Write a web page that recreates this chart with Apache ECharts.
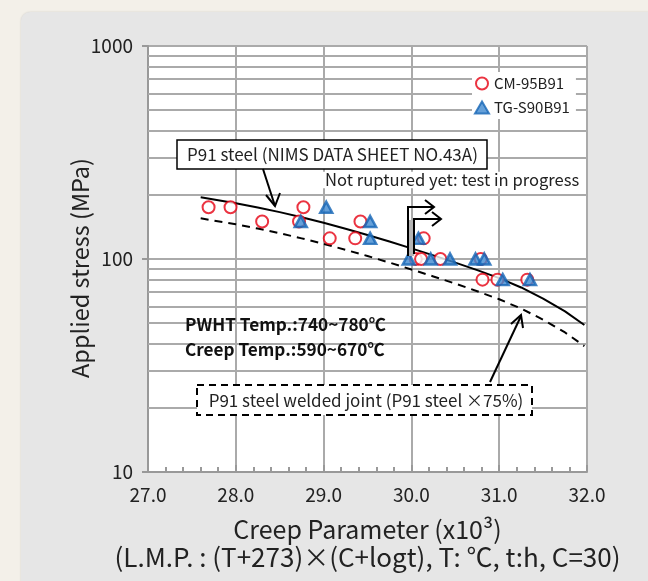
<!DOCTYPE html>
<html>
<head>
<meta charset="utf-8">
<script src="https://cdn.jsdelivr.net/npm/echarts@6/dist/echarts.min.js"></script>
<style>
html,body{margin:0;padding:0;background:#f3f0e9;width:648px;height:581px;overflow:hidden;}
#panel{position:absolute;left:21px;top:12px;width:640px;height:600px;background:#e6e6e6;border-radius:9px;box-shadow:0 0 2px rgba(0,0,0,0.15);}
#chart{position:absolute;left:0;top:0;width:648px;height:581px;}
</style>
</head>
<body>
<div id="panel"></div>
<div id="chart"></div>
<script>
// ---- data ----
const cmX = [27.69, 27.94, 28.30, 28.72, 28.77, 29.07, 29.36, 29.42, 30.05, 30.11, 30.14, 30.33, 30.79, 30.81, 30.98, 31.32];
const cmY = [175, 175, 150, 150, 175, 125, 125, 150, 100, 100, 125, 100, 100, 80, 80, 80];
const tgX = [28.74, 29.03, 29.53, 29.53, 29.97, 30.08, 30.22, 30.44, 30.73, 30.83, 31.04, 31.35];
const tgY = [150, 175, 150, 125, 100, 125, 100, 100, 100, 100, 80, 80];
const solidX = [27.6, 28.0, 28.25, 28.5, 28.75, 29.0, 29.25, 29.5, 29.75, 30.0, 30.25, 30.5, 30.75, 31.0, 31.25, 31.5, 31.75, 31.97];
const solidY = [195, 182.8, 174.6, 166.0, 157.0, 147.9, 138.7, 129.7, 120.8, 112.2, 104.0, 96.2, 88.7, 81.3, 73.5, 65.2, 56.8, 49.0];
const dashX = [27.6, 28.0, 28.25, 28.5, 28.75, 29.0, 29.25, 29.5, 29.75, 30.0, 30.25, 30.5, 30.75, 31.0, 31.25, 31.5, 31.75, 31.97];
const dashY = [155.2, 145.5, 139.0, 132.1, 125.0, 117.8, 110.4, 103.3, 96.2, 89.3, 82.8, 76.6, 70.6, 64.7, 58.5, 51.9, 45.2, 39.0];
const yTickLabels = ['10', '100', '1000'];
const minorGridY = [20, 30, 40, 50, 60, 70, 80, 90, 200, 300, 400, 500, 600, 700, 800, 900];
const seriesNames = ['CM-95B91', 'TG-S90B91'];

const FONT = '"Noto Sans CJK JP", "Noto Sans", sans-serif';
const zip = (xs, ys) => xs.map((x, i) => [x, ys[i]]);

const chart = echarts.init(document.getElementById('chart'), null, {renderer: 'canvas'});
const option = {
  backgroundColor: 'transparent',
  animation: false,
  textStyle: {fontFamily: FONT},
  grid: {left: 148, right: 61, top: 46, bottom: 109, show: true, backgroundColor: '#ffffff', borderWidth: 0},
  legend: {
    data: seriesNames,
    orient: 'vertical',
    left: 472, top: 72, z: 100,
    backgroundColor: '#ffffff',
    padding: [4, 6, 4, 2],
    itemGap: 9,
    itemWidth: 14, itemHeight: 12,
    textStyle: {fontSize: 15, color: '#222', fontFamily: FONT}
  },
  xAxis: {
    type: 'value', min: 27, max: 32, interval: 1,
    axisLine: {show: true, lineStyle: {color: '#999', width: 2}},
    axisTick: {show: true, inside: true, length: 7, lineStyle: {color: '#999', width: 2}},
    minorTick: {show: true, splitNumber: 5, length: 5, lineStyle: {color: '#999', width: 2}},
    axisLabel: {fontSize: 19, color: '#222', margin: 13, formatter: v => v.toFixed(1), fontFamily: FONT},
    splitLine: {show: true, lineStyle: {color: '#aaa', width: 2}},
    name: '{a|Creep Parameter (x10³)}\n{b|(L.M.P. : (T+273)×(C+logt), T: ℃, t:h, C=30)}',
    nameLocation: 'middle', nameGap: 43,
    nameTextStyle: {color: '#222', lineHeight: 28, fontFamily: FONT,
      rich: {a: {fontSize: 25, lineHeight: 28, color: '#222', fontFamily: FONT},
             b: {fontSize: 26, lineHeight: 28, color: '#222', fontFamily: FONT}}}
  },
  yAxis: {
    type: 'log', logBase: 10, min: 10, max: 1000,
    axisLine: {show: true, lineStyle: {color: '#999', width: 2}},
    axisTick: {show: true, length: 6, lineStyle: {color: '#999', width: 2}},
    axisLabel: {fontSize: 19, color: '#222', margin: 15, fontFamily: FONT,
      formatter: v => yTickLabels[Math.round(Math.log10(v)) - 1] || ''},
    splitLine: {show: true, lineStyle: {color: '#aaa', width: 2}}
  },
  series: [
    {
      name: 'grid-minor', type: 'line', data: [], z: 1, silent: true,
      markLine: {
        z: 1,
        silent: true, symbol: 'none', label: {show: false},
        lineStyle: {color: '#aaa', width: 2, type: 'solid'},
        data: minorGridY.map(v => ({yAxis: v}))
      }
    },
    {
      name: 'P91', type: 'line', smooth: false, showSymbol: false, z: 3,
      lineStyle: {color: '#000', width: 2, join: 'round'}, data: zip(solidX, solidY)
    },
    {
      name: 'P91 welded', type: 'line', smooth: false, showSymbol: false, z: 3,
      lineStyle: {color: '#000', width: 2, type: [8, 6]}, data: zip(dashX, dashY)
    },
    {
      name: seriesNames[0], type: 'scatter', symbol: 'emptyCircle', symbolSize: 12, z: 5,
      itemStyle: {color: '#e60012', borderColor: '#e60012', borderWidth: 3},
      data: zip(cmX, cmY)
    },
    {
      name: seriesNames[1], type: 'scatter', symbol: 'triangle', symbolSize: [12, 11], z: 6,
      itemStyle: {color: '#3f88cf', borderColor: '#1565b5', borderWidth: 2.5},
      data: zip(tgX, tgY)
    }
  ],
  graphic: [
    {type: 'text', x: 80, y: 268, rotation: Math.PI / 2, z: 50,
     style: {text: 'Applied stress (MPa)', fontSize: 23.5, fontFamily: FONT, fill: '#222', align: 'center', verticalAlign: 'middle'}},
    {type: 'rect', z: 50, shape: {x: 177, y: 140, width: 310, height: 29},
     style: {fill: '#fff', stroke: '#000', lineWidth: 1.5}},
    {type: 'text', z: 51, x: 187, y: 155,
     style: {text: 'P91 steel (NIMS DATA SHEET NO.43A)', fontSize: 17, fontFamily: FONT, fill: '#222', align: 'left', verticalAlign: 'middle'}},
    {type: 'line', z: 51, shape: {x1: 263, y1: 169, x2: 275, y2: 206}, style: {stroke: '#000', lineWidth: 2}},
    {type: 'polyline', z: 51, shape: {points: [[266, 195], [275, 206], [280, 193]]}, style: {stroke: '#000', lineWidth: 2, fill: null}},
    {type: 'text', z: 50, x: 323, y: 180,
     style: {text: 'Not ruptured yet: test in progress', fontSize: 16.6, fontFamily: FONT, fill: '#222', align: 'left', verticalAlign: 'middle', backgroundColor: '#fff', padding: [0, 2]}},
    {type: 'rect', z: 50, shape: {x: 409, y: 220, width: 5, height: 36}, style: {fill: '#b5b5b5'}},
    {type: 'polyline', z: 51, shape: {points: [[408, 256], [408, 207], [433, 207]]}, style: {stroke: '#000', lineWidth: 2, fill: null}},
    {type: 'polyline', z: 51, shape: {points: [[425, 200], [434, 207], [425, 214]]}, style: {stroke: '#000', lineWidth: 2, fill: null}},
    {type: 'polyline', z: 51, shape: {points: [[414, 254], [414, 219], [440, 219]]}, style: {stroke: '#000', lineWidth: 2, fill: null}},
    {type: 'polyline', z: 51, shape: {points: [[432, 212], [441, 219], [432, 226]]}, style: {stroke: '#000', lineWidth: 2, fill: null}},
    {type: 'text', z: 50, x: 185, y: 324,
     style: {text: 'PWHT Temp.:740~780℃', fontSize: 17.2, fontWeight: 'bold', fontFamily: FONT, fill: '#111', align: 'left', verticalAlign: 'middle'}},
    {type: 'text', z: 50, x: 185, y: 349,
     style: {text: 'Creep Temp.:590~670℃', fontSize: 17.2, fontWeight: 'bold', fontFamily: FONT, fill: '#111', align: 'left', verticalAlign: 'middle'}},
    {type: 'rect', z: 50, shape: {x: 197, y: 385, width: 335, height: 30},
     style: {fill: '#fff', stroke: '#000', lineWidth: 2, lineDash: [7, 5]}},
    {type: 'text', z: 51, x: 366, y: 401,
     style: {text: 'P91 steel welded joint (P91 steel ×75%)', fontSize: 17, fontFamily: FONT, fill: '#222', align: 'center', verticalAlign: 'middle'}},
    {type: 'line', z: 51, shape: {x1: 490, y1: 382, x2: 521, y2: 316}, style: {stroke: '#000', lineWidth: 2}},
    {type: 'polyline', z: 51, shape: {points: [[511, 324], [521, 315], [523, 328]]}, style: {stroke: '#000', lineWidth: 2, fill: null}}
  ]
};
chart.setOption(option);
</script>
</body>
</html>
